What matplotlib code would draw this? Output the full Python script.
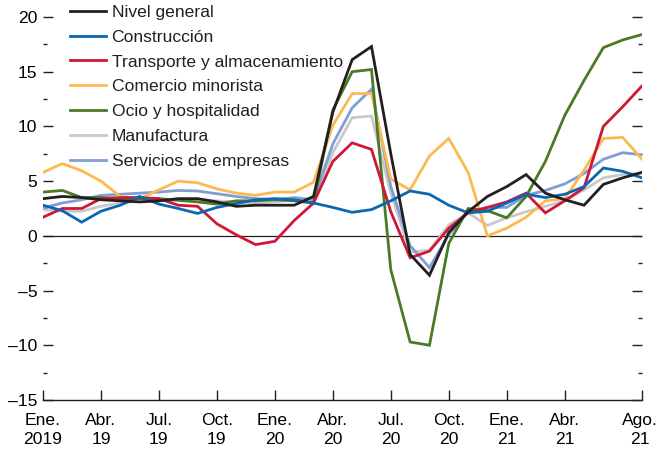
import matplotlib
matplotlib.use("Agg")
import matplotlib.pyplot as plt
from matplotlib.ticker import MultipleLocator
import matplotlib.transforms as mtransforms
import numpy as np

plt.rcParams['font.family'] = ['Liberation Sans', 'DejaVu Sans']

months = np.arange(32)  # Jan 2019 .. Aug 2021
tick_pos = [0, 3, 6, 9, 12, 15, 18, 21, 24, 27, 31]
tick_labels = ["Ene.\n2019", "Abr.\n19", "Jul.\n19", "Oct.\n19", "Ene.\n20", "Abr.\n20",
               "Jul.\n20", "Oct.\n20", "Ene.\n21", "Abr.\n21", "Ago.\n21"]

nivel_general = [3.4, 3.6, 3.5, 3.3, 3.2, 3.1, 3.2, 3.4, 3.4, 3.1, 2.7, 2.8, 2.8, 2.8, 3.6,
                 11.3, 16.1, 17.3, 7.5, -1.7, -3.6, 0.3, 2.2, 3.6, 4.5, 5.6, 3.9, 3.3, 2.8,
                 4.7, 5.3, 5.8]
construccion = [2.8, 2.3, 1.25, 2.25, 2.8, 3.6, 2.9, 2.5, 2.05, 2.6, 2.95, 3.3, 3.4, 3.3, 3.0,
                2.6, 2.15, 2.4, 3.2, 4.1, 3.8, 2.8, 2.1, 2.25, 3.0, 3.8, 3.5, 3.8, 4.5, 6.2,
                5.9, 5.3]
transporte = [1.7, 2.5, 2.5, 3.4, 3.5, 3.5, 3.4, 2.8, 2.7, 1.1, 0.1, -0.8, -0.5, 1.4, 3.0,
              6.8, 8.5, 7.9, 2.2, -2.0, -1.4, 0.7, 2.1, 2.6, 3.1, 3.9, 2.1, 3.2, 4.4, 10.0,
              11.8, 13.7]
comercio = [5.8, 6.6, 5.95, 5.0, 3.6, 3.4, 4.2, 5.0, 4.85, 4.3, 3.9, 3.7, 4.0, 4.0, 4.9,
            10.1, 13.0, 13.0, 5.2, 4.2, 7.3, 8.9, 5.8, 0.0, 0.7, 1.7, 3.2, 3.4, 6.0, 8.9,
            9.0, 7.0]
ocio = [4.0, 4.15, 3.5, 3.5, 3.4, 3.4, 3.4, 3.25, 3.1, 2.9, 3.2, 3.2, 3.3, 3.2, 3.0,
        11.5, 15.0, 15.2, -3.1, -9.7, -10.0, -0.7, 2.5, 2.3, 1.65, 3.6, 6.8, 11.0, 14.2,
        17.2, 17.9, 18.4]
manufactura = [2.4, 2.25, 2.25, 2.7, 3.0, 3.2, 3.2, 3.3, 3.3, 3.2, 3.1, 3.0, 3.1, 3.3, 3.2,
               7.6, 10.8, 10.95, 3.9, -1.5, -1.3, 1.0, 2.1, 0.95, 1.65, 2.2, 2.7, 3.2, 4.2,
               5.3, 5.6, 5.75]
servicios = [2.55, 3.0, 3.3, 3.7, 3.8, 3.9, 4.0, 4.15, 4.1, 3.85, 3.6, 3.4, 3.3, 3.5, 3.3,
             8.4, 11.7, 13.4, 4.5, -0.9, -2.9, 0.1, 2.2, 2.6, 2.6, 3.7, 4.15, 4.75, 5.7,
             7.0, 7.6, 7.4]

series = [
    ("Nivel general", nivel_general, "#231f20"),
    ("Construcción", construccion, "#0a67b2"),
    ("Transporte y almacenamiento", transporte, "#cf1836"),
    ("Comercio minorista", comercio, "#fdb94f"),
    ("Ocio y hospitalidad", ocio, "#4a7a26"),
    ("Manufactura", manufactura, "#c9c9c9"),
    ("Servicios de empresas", servicios, "#7f9ed6"),
]
zorders = {"Manufactura": 2, "Servicios de empresas": 3, "Comercio minorista": 4,
           "Ocio y hospitalidad": 5, "Transporte y almacenamiento": 6, "Construcción": 7,
           "Nivel general": 8}

FS = 12.6

fig = plt.figure(figsize=(6.59, 4.54), dpi=100)
ax = fig.add_axes([43/659, 1-400/454, (642-43)/659, (400-17)/454])

handles = []
for name, vals, col in series:
    h, = ax.plot(months, vals, color=col, lw=2.0, label=name, zorder=zorders[name],
                 solid_joinstyle='miter')
    handles.append(h)

ax.axhline(0, color="#231f20", lw=0.9, zorder=1)

ax.set_xlim(0, 31)
ax.set_ylim(-15, 20)
for s in ["left", "right", "top"]:
    ax.spines[s].set_visible(False)
ax.spines["bottom"].set_color("#231f20")
ax.spines["bottom"].set_linewidth(1.0)

ax.set_xticks(tick_pos)
ax.set_xticklabels(tick_labels, linespacing=1.3)
ax.yaxis.set_major_locator(MultipleLocator(5))
ax.yaxis.set_minor_locator(MultipleLocator(2.5))
ax.tick_params(axis="x", direction="in", length=7, width=1.0, color="#231f20",
               labelsize=FS, pad=9.5)
ax.tick_params(axis="y", which="major", direction="in", length=7, width=1.0,
               color="#231f20", labelsize=FS, pad=4, right=True, left=True)
ax.tick_params(axis="y", which="minor", direction="in", length=3, width=1.0,
               color="#231f20", right=True, left=True)
ax.yaxis.set_major_formatter(matplotlib.ticker.FuncFormatter(
    lambda v, p: ("\u2013%d" % abs(v)) if v < 0 else "%d" % v))

# nudge last x label slightly left so it stays inside the figure
last = ax.get_xticklabels()[-1]
last.set_transform(last.get_transform() + mtransforms.ScaledTranslation(-2/100, 0, fig.dpi_scale_trans))

leg = ax.legend(handles=handles, loc="upper left", bbox_to_anchor=(66/659, 1-1/454),
                bbox_transform=fig.transFigure, frameon=False, fontsize=FS,
                handlelength=2.1, handletextpad=0.3, labelspacing=0.55, borderpad=0.2,
                borderaxespad=0)
for t in leg.get_texts():
    t.set_color("#231f20")

fig.savefig("out.png", dpi=100)
